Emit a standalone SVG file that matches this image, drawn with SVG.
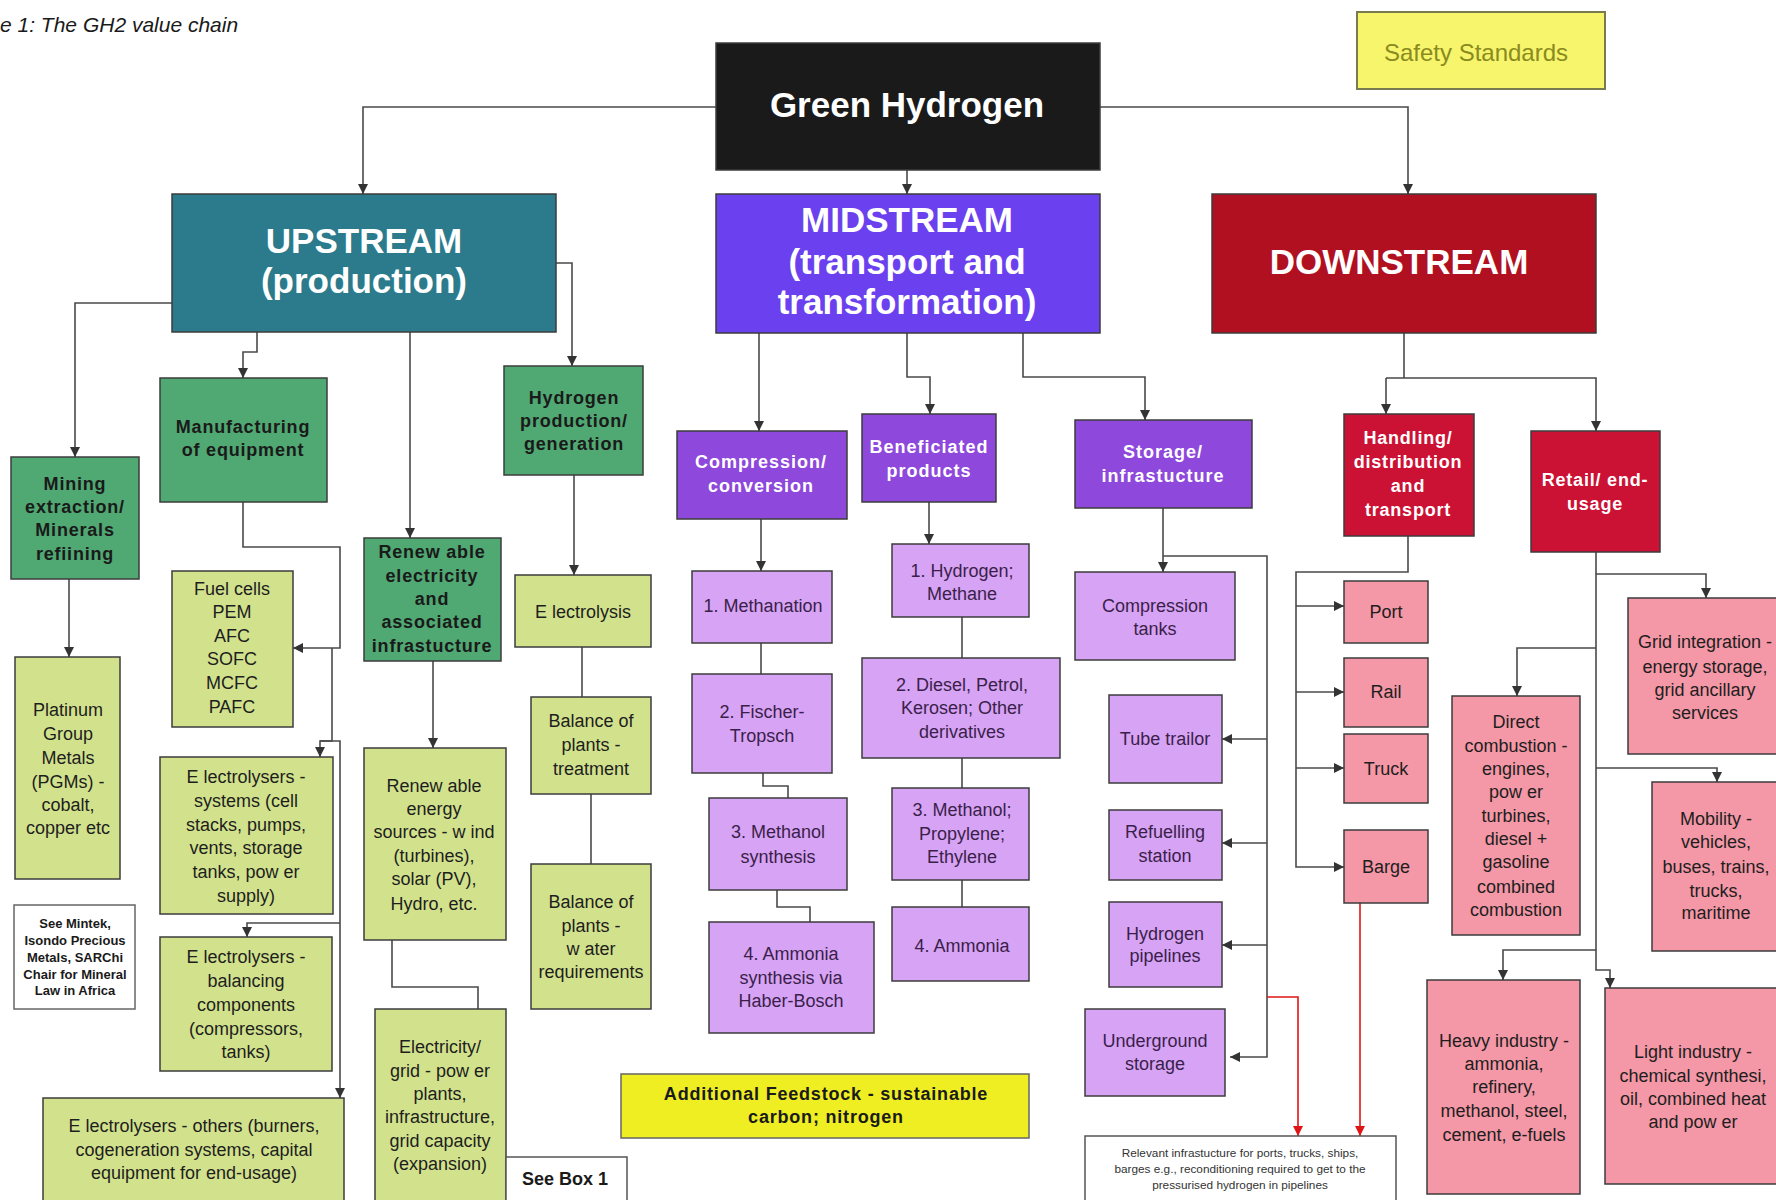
<svg xmlns="http://www.w3.org/2000/svg" width="1776" height="1200" viewBox="0 0 1776 1200">
<defs>
<style>
.bg{fill:#ffffff}
.bx{stroke:#3c3c3c;stroke-width:1.5}
.gh{fill:#1a1a1a}
.up{fill:#2b7b8c}
.mid{fill:#6b40ee}
.dn{fill:#b0101f}
.grn{fill:#50a872}
.lg{fill:#d2e28c}
.pur{fill:#8e48dc}
.lp{fill:#d7a3f5}
.crm{fill:#cc1234}
.pk{fill:#f497a6}
.wh{fill:#ffffff}
.ys{fill:#f6f56c;stroke:#7a7a50;stroke-width:2}
.yf{fill:#eeee22}
.c{fill:none;stroke:#4a4a4a;stroke-width:1.6}
.r{fill:none;stroke:#e01414;stroke-width:1.6}
text{font-family:"Liberation Sans",Arial,sans-serif;text-anchor:middle}
.big{font-size:35px;font-weight:bold;fill:#ffffff}
.b18{font-size:18px;font-weight:bold;letter-spacing:0.8px}
.wb{fill:#ffffff}
.db{fill:#1a1a1a}
.n18{font-size:18px;fill:#1e1e1e}
.pt{fill:#3a1f4a}
.sm{font-size:11.8px;fill:#333333}
.s13{font-size:13px;font-weight:bold;fill:#1a1a1a}
</style>
<marker id="a" viewBox="0 0 10 10" refX="10" refY="5" markerWidth="10" markerHeight="10" markerUnits="userSpaceOnUse" orient="auto"><path d="M0,0 L10,5 L0,10 z" fill="#333333"/></marker>
<marker id="ar" viewBox="0 0 10 10" refX="10" refY="5" markerWidth="10" markerHeight="10" markerUnits="userSpaceOnUse" orient="auto"><path d="M0,0 L10,5 L0,10 z" fill="#e01414"/></marker>
</defs>
<rect class="bg" x="0" y="0" width="1776" height="1200"/>

<text x="0" y="32" style="font-size:21px;font-style:italic;text-anchor:start;fill:#1a1a1a">e 1: The GH2 value chain</text>

<g id="connectors">
<path class="c" d="M716,107 H363 V194" marker-end="url(#a)"/>
<path class="c" d="M907,170 V194" marker-end="url(#a)"/>
<path class="c" d="M1100,107 H1408 V194" marker-end="url(#a)"/>
<path class="c" d="M172,303 H75 V457" marker-end="url(#a)"/>
<path class="c" d="M257,332 V352 H243 V378" marker-end="url(#a)"/>
<path class="c" d="M410,332 V538" marker-end="url(#a)"/>
<path class="c" d="M556,263 H572 V366" marker-end="url(#a)"/>
<path class="c" d="M69,579 V657" marker-end="url(#a)"/>
<path class="c" d="M243,502 V547 H340 V648 H293" marker-end="url(#a)"/>
<path class="c" d="M332,648 V741 H320 V757" marker-end="url(#a)"/>
<path class="c" d="M320,741 H340 V1098" marker-end="url(#a)"/>
<path class="c" d="M340,923 H247 V937" marker-end="url(#a)"/>
<path class="c" d="M433,661 V748" marker-end="url(#a)"/>
<path class="c" d="M392,940 V987 H478 V1009"/>
<path class="c" d="M574,475 V575" marker-end="url(#a)"/>
<path class="c" d="M582,647 V697"/>
<path class="c" d="M591,794 V864"/>
<path class="c" d="M759,333 V431" marker-end="url(#a)"/>
<path class="c" d="M907,333 V377 H930 V414" marker-end="url(#a)"/>
<path class="c" d="M1023,333 V377 H1145 V420" marker-end="url(#a)"/>
<path class="c" d="M761,519 V571" marker-end="url(#a)"/>
<path class="c" d="M761,643 V674"/>
<path class="c" d="M763,773 V786 H788 V798"/>
<path class="c" d="M777,890 V907 H810 V922"/>
<path class="c" d="M929,502 V544" marker-end="url(#a)"/>
<path class="c" d="M962,617 V658"/>
<path class="c" d="M962,758 V788"/>
<path class="c" d="M962,880 V907"/>
<path class="c" d="M1163,508 V572" marker-end="url(#a)"/>
<path class="c" d="M1163,556 H1267 V1057 H1230" marker-end="url(#a)"/>
<path class="c" d="M1267,739 H1222" marker-end="url(#a)"/>
<path class="c" d="M1267,843 H1222" marker-end="url(#a)"/>
<path class="c" d="M1267,945 H1222" marker-end="url(#a)"/>
<path class="r" d="M1267,997 H1298 V1136" marker-end="url(#ar)"/>
<path class="r" d="M1360,903 V1136" marker-end="url(#ar)"/>
<path class="c" d="M1404,333 V378"/>
<path class="c" d="M1386,378 H1596 V431" marker-end="url(#a)"/>
<path class="c" d="M1386,378 V414" marker-end="url(#a)"/>
<path class="c" d="M1408,536 V572 H1296 V867 H1344" marker-end="url(#a)"/>
<path class="c" d="M1296,606 H1344" marker-end="url(#a)"/>
<path class="c" d="M1296,692 H1344" marker-end="url(#a)"/>
<path class="c" d="M1296,768 H1344" marker-end="url(#a)"/>
<path class="c" d="M1596,552 V970 H1610 V988" marker-end="url(#a)"/>
<path class="c" d="M1596,574 H1706 V598" marker-end="url(#a)"/>
<path class="c" d="M1596,648 H1517 V696" marker-end="url(#a)"/>
<path class="c" d="M1596,768 H1717 V782" marker-end="url(#a)"/>
<path class="c" d="M1596,950 H1503 V980" marker-end="url(#a)"/>
</g>

<g id="safety"><rect class="ys" x="1357" y="12" width="248" height="77"/><text x="1476" y="61" style="font-size:24px;fill:#8a8a1e">Safety Standards</text></g>

<g id="green-hydrogen"><rect class="bx gh" x="716" y="43" width="384" height="127"/><text class="big" x="907" y="117">Green Hydrogen</text></g>

<g id="upstream"><rect class="bx up" x="172" y="194" width="384" height="138"/><text class="big" x="364"><tspan x="364" y="253">UPSTREAM</tspan><tspan x="364" y="293">(production)</tspan></text></g>

<g id="midstream"><rect class="bx mid" x="716" y="194" width="384" height="139"/><text class="big" x="907"><tspan x="907" y="232">MIDSTREAM</tspan><tspan x="907" y="274">(transport and</tspan><tspan x="907" y="314">transformation)</tspan></text></g>

<g id="downstream"><rect class="bx dn" x="1212" y="194" width="384" height="139"/><text class="big" x="1399" y="274">DOWNSTREAM</text></g>

<g id="mining"><rect class="bx grn" x="11" y="457" width="128" height="122"/><text class="b18 db"><tspan x="75" y="490">Mining</tspan><tspan x="75" y="513">extraction/</tspan><tspan x="75" y="536">Minerals</tspan><tspan x="75" y="560">refiining</tspan></text></g>

<g id="manufacturing"><rect class="bx grn" x="160" y="378" width="167" height="124"/><text class="b18 db"><tspan x="243" y="433">Manufacturing</tspan><tspan x="243" y="456">of equipment</tspan></text></g>

<g id="renewable"><rect class="bx grn" x="364" y="538" width="137" height="123"/><text class="b18 db"><tspan x="432" y="558">Renew able</tspan><tspan x="432" y="582">electricity</tspan><tspan x="432" y="605">and</tspan><tspan x="432" y="628">associated</tspan><tspan x="432" y="652">infrastucture</tspan></text></g>

<g id="h2-production"><rect class="bx grn" x="504" y="366" width="139" height="109"/><text class="b18 db"><tspan x="574" y="404">Hydrogen</tspan><tspan x="574" y="427">production/</tspan><tspan x="574" y="450">generation</tspan></text></g>

<g id="platinum"><rect class="bx lg" x="15" y="657" width="105" height="222"/><text class="n18"><tspan x="68" y="716">Platinum</tspan><tspan x="68" y="740">Group</tspan><tspan x="68" y="764">Metals</tspan><tspan x="68" y="788">(PGMs) -</tspan><tspan x="68" y="811">cobalt,</tspan><tspan x="68" y="834">copper etc</tspan></text></g>

<g id="mintek"><rect class="bx wh" x="14" y="905" width="121" height="104" style="stroke:#666"/><text class="s13"><tspan x="75" y="928">See Mintek,</tspan><tspan x="75" y="945">Isondo Precious</tspan><tspan x="75" y="962">Metals, SARChi</tspan><tspan x="75" y="979">Chair for Mineral</tspan><tspan x="75" y="995">Law in Africa</tspan></text></g>

<g id="fuel-cells"><rect class="bx lg" x="172" y="571" width="121" height="156"/><text class="n18"><tspan x="232" y="595">Fuel cells</tspan><tspan x="232" y="618">PEM</tspan><tspan x="232" y="642">AFC</tspan><tspan x="232" y="665">SOFC</tspan><tspan x="232" y="689">MCFC</tspan><tspan x="232" y="713">PAFC</tspan></text></g>

<g id="electrolysers-systems"><rect class="bx lg" x="160" y="757" width="173" height="157"/><text class="n18"><tspan x="246" y="783">E lectrolysers -</tspan><tspan x="246" y="807">systems (cell</tspan><tspan x="246" y="831">stacks, pumps,</tspan><tspan x="246" y="854">vents, storage</tspan><tspan x="246" y="878">tanks, pow er</tspan><tspan x="246" y="902">supply)</tspan></text></g>

<g id="electrolysers-balancing"><rect class="bx lg" x="160" y="937" width="172" height="134"/><text class="n18"><tspan x="246" y="963">E lectrolysers -</tspan><tspan x="246" y="987">balancing</tspan><tspan x="246" y="1011">components</tspan><tspan x="246" y="1035">(compressors,</tspan><tspan x="246" y="1058">tanks)</tspan></text></g>

<g id="electrolysers-others"><rect class="bx lg" x="43" y="1098" width="301" height="110"/><text class="n18"><tspan x="194" y="1132">E lectrolysers -  others (burners,</tspan><tspan x="194" y="1156">cogeneration systems, capital</tspan><tspan x="194" y="1179">equipment for end-usage)</tspan></text></g>

<g id="renewable-energy"><rect class="bx lg" x="364" y="748" width="142" height="192"/><text class="n18"><tspan x="434" y="792">Renew able</tspan><tspan x="434" y="815">energy</tspan><tspan x="434" y="838">sources - w ind</tspan><tspan x="434" y="862">(turbines),</tspan><tspan x="434" y="885">solar (PV),</tspan><tspan x="434" y="910">Hydro, etc.</tspan></text></g>

<g id="electricity-grid"><rect class="bx lg" x="375" y="1009" width="131" height="200"/><text class="n18"><tspan x="440" y="1053">Electricity/</tspan><tspan x="440" y="1077">grid - pow er</tspan><tspan x="440" y="1100">plants,</tspan><tspan x="440" y="1123">infrastructure,</tspan><tspan x="440" y="1147">grid capacity</tspan><tspan x="440" y="1170">(expansion)</tspan></text></g>

<g id="see-box"><rect class="bx wh" x="506" y="1157" width="121" height="50" style="stroke:#555"/><text class="db" x="565" y="1185" style="font-size:18px;font-weight:bold">See Box 1</text></g>

<g id="electrolysis"><rect class="bx lg" x="515" y="575" width="136" height="72"/><text class="n18" x="583" y="618">E lectrolysis</text></g>

<g id="balance-treatment"><rect class="bx lg" x="531" y="697" width="120" height="97"/><text class="n18"><tspan x="591" y="727">Balance of</tspan><tspan x="591" y="751">plants -</tspan><tspan x="591" y="775">treatment</tspan></text></g>

<g id="balance-water"><rect class="bx lg" x="531" y="864" width="120" height="145"/><text class="n18"><tspan x="591" y="908">Balance of</tspan><tspan x="591" y="932">plants -</tspan><tspan x="591" y="955">w ater</tspan><tspan x="591" y="978">requirements</tspan></text></g>

<g id="feedstock"><rect class="bx yf" x="621" y="1074" width="408" height="64" style="stroke:#666"/><text class="b18 db"><tspan x="826" y="1100">Additional Feedstock - sustainable</tspan><tspan x="826" y="1123">carbon; nitrogen</tspan></text></g>

<g id="compression-conversion"><rect class="bx pur" x="677" y="431" width="170" height="88"/><text class="b18 wb" style="letter-spacing:1px"><tspan x="761" y="468">Compression/</tspan><tspan x="761" y="492">conversion</tspan></text></g>

<g id="beneficiated"><rect class="bx pur" x="862" y="414" width="134" height="88"/><text class="b18 wb" style="letter-spacing:1px"><tspan x="929" y="453">Beneficiated</tspan><tspan x="929" y="477">products</tspan></text></g>

<g id="storage"><rect class="bx pur" x="1075" y="420" width="177" height="88"/><text class="b18 wb" style="letter-spacing:1px"><tspan x="1163" y="458">Storage/</tspan><tspan x="1163" y="482">infrastucture</tspan></text></g>

<g id="methanation"><rect class="bx lp" x="692" y="571" width="140" height="72"/><text class="n18 pt" x="763" y="612">1. Methanation</text></g>

<g id="fischer"><rect class="bx lp" x="692" y="674" width="140" height="99"/><text class="n18 pt"><tspan x="762" y="718">2. Fischer-</tspan><tspan x="762" y="742">Tropsch</tspan></text></g>

<g id="methanol-synthesis"><rect class="bx lp" x="709" y="798" width="138" height="92"/><text class="n18 pt"><tspan x="778" y="838">3. Methanol</tspan><tspan x="778" y="863">synthesis</tspan></text></g>

<g id="ammonia-synthesis"><rect class="bx lp" x="709" y="922" width="165" height="111"/><text class="n18 pt"><tspan x="791" y="960">4. Ammonia</tspan><tspan x="791" y="984">synthesis via</tspan><tspan x="791" y="1007">Haber-Bosch</tspan></text></g>

<g id="hydrogen-methane"><rect class="bx lp" x="892" y="544" width="137" height="73"/><text class="n18 pt"><tspan x="962" y="577">1. Hydrogen;</tspan><tspan x="962" y="600">Methane</tspan></text></g>

<g id="diesel"><rect class="bx lp" x="862" y="658" width="198" height="100"/><text class="n18 pt"><tspan x="962" y="691">2. Diesel, Petrol,</tspan><tspan x="962" y="714">Kerosen; Other</tspan><tspan x="962" y="738">derivatives</tspan></text></g>

<g id="methanol-propylene"><rect class="bx lp" x="892" y="788" width="137" height="92"/><text class="n18 pt"><tspan x="962" y="816">3. Methanol;</tspan><tspan x="962" y="840">Propylene;</tspan><tspan x="962" y="863">Ethylene</tspan></text></g>

<g id="ammonia"><rect class="bx lp" x="892" y="907" width="137" height="74"/><text class="n18 pt" x="962" y="952">4. Ammonia</text></g>

<g id="compression-tanks"><rect class="bx lp" x="1075" y="572" width="160" height="88"/><text class="n18 pt"><tspan x="1155" y="612">Compression</tspan><tspan x="1155" y="635">tanks</tspan></text></g>

<g id="tube-trailor"><rect class="bx lp" x="1109" y="695" width="113" height="88"/><text class="n18 pt" x="1165" y="745">Tube trailor</text></g>

<g id="refuelling"><rect class="bx lp" x="1109" y="810" width="113" height="70"/><text class="n18 pt"><tspan x="1165" y="838">Refuelling</tspan><tspan x="1165" y="862">station</tspan></text></g>

<g id="pipelines"><rect class="bx lp" x="1109" y="902" width="113" height="85"/><text class="n18 pt"><tspan x="1165" y="940">Hydrogen</tspan><tspan x="1165" y="962">pipelines</tspan></text></g>

<g id="underground"><rect class="bx lp" x="1085" y="1009" width="140" height="87"/><text class="n18 pt"><tspan x="1155" y="1047">Underground</tspan><tspan x="1155" y="1070">storage</tspan></text></g>

<g id="relevant-infra"><rect class="bx wh" x="1085" y="1136" width="311" height="72" style="stroke:#555"/><text class="sm"><tspan x="1240" y="1157">Relevant infrastucture for ports, trucks, ships,</tspan><tspan x="1240" y="1173">barges e.g., reconditioning required to get to the</tspan><tspan x="1240" y="1189">pressurised hydrogen in pipelines</tspan></text></g>

<g id="handling"><rect class="bx crm" x="1344" y="414" width="130" height="122"/><text class="b18 wb"><tspan x="1408" y="444">Handling/</tspan><tspan x="1408" y="468">distribution</tspan><tspan x="1408" y="492">and</tspan><tspan x="1408" y="516">transport</tspan></text></g>

<g id="retail"><rect class="bx crm" x="1531" y="431" width="129" height="121"/><text class="b18 wb"><tspan x="1595" y="486">Retail/ end-</tspan><tspan x="1595" y="510">usage</tspan></text></g>

<g id="port"><rect class="bx pk" x="1344" y="581" width="84" height="62"/><text class="n18" x="1386" y="618">Port</text></g>
<g id="rail"><rect class="bx pk" x="1344" y="658" width="84" height="69"/><text class="n18" x="1386" y="698">Rail</text></g>
<g id="truck"><rect class="bx pk" x="1344" y="734" width="84" height="69"/><text class="n18" x="1386" y="775">Truck</text></g>
<g id="barge"><rect class="bx pk" x="1344" y="830" width="84" height="73"/><text class="n18" x="1386" y="873">Barge</text></g>

<g id="grid-integration"><rect class="bx pk" x="1628" y="598" width="160" height="156"/><text class="n18"><tspan x="1705" y="648">Grid integration -</tspan><tspan x="1705" y="673">energy storage,</tspan><tspan x="1705" y="696">grid ancillary</tspan><tspan x="1705" y="719">services</tspan></text></g>

<g id="direct-combustion"><rect class="bx pk" x="1452" y="696" width="128" height="239"/><text class="n18"><tspan x="1516" y="728">Direct</tspan><tspan x="1516" y="752">combustion -</tspan><tspan x="1516" y="775">engines,</tspan><tspan x="1516" y="798">pow er</tspan><tspan x="1516" y="822">turbines,</tspan><tspan x="1516" y="845">diesel +</tspan><tspan x="1516" y="868">gasoline</tspan><tspan x="1516" y="893">combined</tspan><tspan x="1516" y="916">combustion</tspan></text></g>

<g id="mobility"><rect class="bx pk" x="1652" y="782" width="136" height="169"/><text class="n18"><tspan x="1716" y="825">Mobility -</tspan><tspan x="1716" y="848">vehicles,</tspan><tspan x="1716" y="873">buses, trains,</tspan><tspan x="1716" y="897">trucks,</tspan><tspan x="1716" y="919">maritime</tspan></text></g>

<g id="heavy-industry"><rect class="bx pk" x="1427" y="980" width="153" height="214"/><text class="n18"><tspan x="1504" y="1047">Heavy industry -</tspan><tspan x="1504" y="1070">ammonia,</tspan><tspan x="1504" y="1093">refinery,</tspan><tspan x="1504" y="1117">methanol, steel,</tspan><tspan x="1504" y="1141">cement, e-fuels</tspan></text></g>

<g id="light-industry"><rect class="bx pk" x="1605" y="988" width="183" height="196"/><text class="n18"><tspan x="1693" y="1058">Light industry -</tspan><tspan x="1693" y="1082">chemical synthesi,</tspan><tspan x="1693" y="1105">oil, combined heat</tspan><tspan x="1693" y="1128">and pow er</tspan></text></g>
</svg>
